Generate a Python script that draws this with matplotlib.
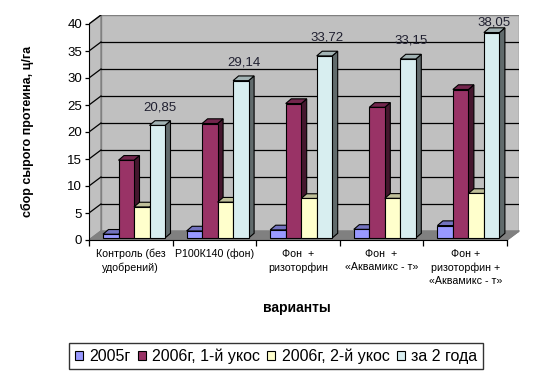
import numpy as np
import matplotlib
matplotlib.use("Agg")
import matplotlib.pyplot as plt
from matplotlib.patches import Polygon, Patch
from matplotlib.colors import to_rgb

plt.rcParams['font.family'] = ['Liberation Sans', 'DejaVu Sans']

categories = ["Контроль (без\nудобрений)", "Р100К140 (фон)", "Фон  +\nризоторфин",
              "Фон  +\n«Аквамикс - т»", "Фон +\nризоторфин +\n«Аквамикс - т»"]
series_names = ["2005г", "2006г, 1-й укос", "2006г, 2-й укос", "за 2 года"]
y2005 = [0.70, 1.30, 1.50, 1.60, 2.30]
y2006_1 = [14.40, 21.20, 24.90, 24.20, 27.50]
y2006_2 = [5.75, 6.64, 7.32, 7.35, 8.25]
total = [20.85, 29.14, 33.72, 33.15, 38.05]
yticks = np.arange(0, 41, 5)

colors = ["#9999FF", "#993366", "#FFFFCC", "#D8EEF0"]

# pseudo-3D geometry (data units: 1 category along x, value along y)
px_x, px_y = 83.6, 5.4
wall_dx, wall_dy = 12 / px_x, 9 / px_y
bar_dx, bar_dy = 5.5 / px_x, 4.7 / px_y
bar_base = 2 / px_y
bar_w = 15.5 / px_x
group_off = 14 / px_x


def shade(c, f):
    r, g, b = to_rgb(c)
    return (r * f, g * f, b * f)


fig = plt.figure(figsize=(5.43, 3.86), dpi=100)
ax = fig.add_axes([89 / 543, 1 - 240 / 386, (5 + wall_dx) * px_x / 543, 41.7 * px_y / 386])
ax.set_xlim(0, 5 + wall_dx)
ax.set_ylim(0, 41.7)

# walls and floor
wall_col = "#C0C0C0"
ax.add_patch(Polygon([(wall_dx, wall_dy), (5 + wall_dx, wall_dy), (5 + wall_dx, 40 + wall_dy),
                      (wall_dx, 40 + wall_dy)], closed=True, fc=wall_col, ec="#808080", lw=1, zorder=1))
ax.add_patch(Polygon([(0, 0), (wall_dx, wall_dy), (wall_dx, 40 + wall_dy), (0, 40)],
                     closed=True, fc=wall_col, ec="#808080", lw=1, zorder=1))
ax.add_patch(Polygon([(0, 0), (5, 0), (5 + wall_dx, wall_dy), (wall_dx, wall_dy)],
                     closed=True, fc="#808080", ec="#808080", lw=1, zorder=1))
for v in yticks[1:]:
    if v < 40:
        ax.plot([wall_dx, 5 + wall_dx], [v + wall_dy, v + wall_dy], color="black", lw=0.9, zorder=2)
    ax.plot([0, wall_dx], [v, v + wall_dy], color="black", lw=0.9, zorder=2)

# bars
series = [y2005, y2006_1, y2006_2, total]
for i in range(len(categories)):
    for j, vals in enumerate(series):
        x0 = i + group_off + j * bar_w
        h = vals[i]
        top = bar_base + h
        c = colors[j]
        side = [(x0 + bar_w, bar_base), (x0 + bar_w + bar_dx, bar_base + bar_dy),
                (x0 + bar_w + bar_dx, top + bar_dy), (x0 + bar_w, top)]
        lid = [(x0, top), (x0 + bar_w, top), (x0 + bar_w + bar_dx, top + bar_dy), (x0 + bar_dx, top + bar_dy)]
        z = 3 + i * 4 + j
        ax.add_patch(Polygon(side, closed=True, fc=shade(c, 0.45), ec="black", lw=0.8, zorder=z))
        ax.add_patch(Polygon(lid, closed=True, fc=shade(c, 0.75), ec="black", lw=0.8, zorder=z))
        ax.bar(x0, h, width=bar_w, bottom=bar_base, align="edge", color=c, edgecolor="black",
               lw=0.8, zorder=z)

# data labels for the total series
for i, v in enumerate(total):
    xc = i + group_off + 3.5 * bar_w + bar_dx / 2
    ax.text(xc, min(bar_base + v + 3.4, 40.2), f"{v:.2f}".replace(".", ","), ha="center",
            va="center", fontsize=9.5, color="#202030", zorder=40)

# axes
for s in ["top", "right"]:
    ax.spines[s].set_visible(False)
ax.spines["left"].set_bounds(0, 40)
ax.spines["bottom"].set_bounds(0, 5)
ax.spines["left"].set_zorder(30)
ax.spines["bottom"].set_zorder(30)
ax.set_yticks(yticks)
ax.set_yticklabels([str(v) for v in yticks], fontsize=9.5)
ax.tick_params(axis="y", length=3, width=0.9, pad=2)
ax.set_xticks(np.arange(0, 6))
ax.set_xticklabels([])
ax.tick_params(axis="x", length=4, width=0.9)
for i, lab in enumerate(categories):
    ax.text(i + 0.5, -1.6, lab, ha="center", va="top", fontsize=7.7, linespacing=1.4)
ax.plot([5, 5 + wall_dx], [0, wall_dy], color="#808080", lw=1, zorder=2, clip_on=False)

fig.text(297 / 543, 1 - 308 / 386, "варианты", ha="center", va="center",
         fontsize=10, fontweight="bold")
fig.text(27 / 543, 1 - 131.5 / 386, "сбор сырого протеина, ц/га", ha="center", va="center",
         rotation=90, fontsize=9, fontweight="bold")

handles = [Patch(fc=c, ec="black", lw=0.8) for c in colors]
leg = fig.legend(handles, series_names, loc="center", bbox_to_anchor=(276 / 543, 1 - 356 / 386),
                 ncol=4, fontsize=11.5, frameon=True, fancybox=False, handlelength=0.5,
                 handleheight=0.5, handletextpad=0.4, columnspacing=0.45, borderpad=0.35)
leg.get_frame().set_edgecolor("black")
leg.get_frame().set_linewidth(1)

fig.savefig("out.png", dpi=100)
